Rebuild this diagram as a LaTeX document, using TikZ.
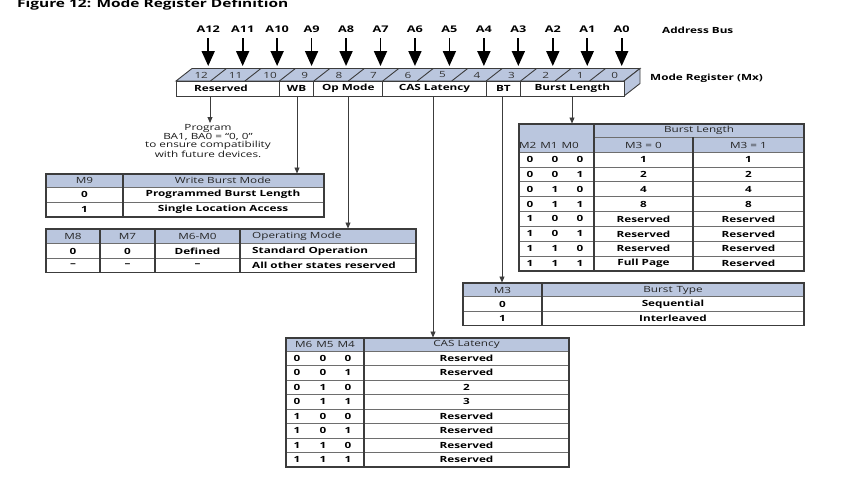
\documentclass[tikz,border=0pt]{standalone}
\usepackage{fontspec}
\setmainfont{Open Sans}[FakeStretch=1.38]
\usetikzlibrary{arrows.meta}
\definecolor{hdr}{RGB}{186,198,222}
\definecolor{ln}{RGB}{60,60,60}
\definecolor{lnl}{RGB}{110,110,110}
\begin{document}
\begin{tikzpicture}[x=1pt,y=-1pt,
  every node/.style={inner sep=0pt, text=black},
  bt/.style={font=\fontsize{8.5}{9}\selectfont\bfseries},
  ab/.style={font=\fontsize{9.2}{10}\selectfont\bfseries},
  hd/.style={font=\fontsize{8.5}{9}\selectfont, text=black!85},
  num/.style={font=\fontsize{8.5}{9}\selectfont, text=black!80},
  bigarr/.style={line width=1.8pt, -{Triangle[width=13pt,length=15pt]}},
  smarr/.style={line width=0.9pt, draw=ln, -{Triangle[width=5pt,length=6pt]}},
  tab/.style={draw=ln, line width=1.2pt},
  grd/.style={draw=lnl, line width=0.7pt},
  regl/.style={draw=ln, line width=0.9pt},
]
\useasboundingbox (0,0) rectangle (865,482);

% title
\node[anchor=base west, font=\fontsize{11.2}{12}\selectfont\bfseries] (title) at (17,7.5) {Figure 12: Mode Register Definition};

% address bus
\foreach \k in {0,...,12}{
  \pgfmathtruncatemacro\bit{12-\k}
  \pgfmathsetmacro\xx{208.2+34.46*\k}
  \node[ab] (a\bit) at (\xx,29.5) {A\bit};
  \coordinate (s\bit) at (\xx,38);
  \coordinate (t\bit) at (\xx,66);
  \draw[bigarr] (s\bit) -- (t\bit);
}
\node[bt, anchor=west] (abus) at (662,30) {Address Bus};

% register
\draw[regl, fill=hdr] (176,81) -- (192,68.5) -- (640,68.5) -- (624,81) -- cycle;
\draw[regl, fill=hdr] (624,81) -- (640,68.5) -- (640,83.5) -- (624,96) -- cycle;
\draw[regl, fill=white] (176,81) rectangle (624,96);
\foreach \j in {1,...,12}{
  \pgfmathsetmacro\xx{176+34.4615*\j}
  \draw[regl] (\xx,81) -- (\xx+16,68.5);
}
\foreach \j in {3,4,6,9,10}{
  \pgfmathsetmacro\xx{176+34.4615*\j}
  \draw[regl] (\xx,81) -- (\xx,96);
}
\foreach \k in {0,...,12}{
  \pgfmathtruncatemacro\bit{12-\k}
  \pgfmathsetmacro\xx{176+34.4615*(\k+0.5)+8}
  \node[num] (b\bit) at (\xx,75) {\bit};
}
\node[bt] (fRes) at (221,88.5) {Reserved};
\node[bt] (fWB) at (296.6,88.5) {WB};
\node[bt] (fOp) at (348.3,88.5) {Op Mode};
\node[bt] (fCAS) at (434.5,88.5) {CAS Latency};
\node[bt] (fBT) at (503.4,88.5) {BT};
\node[bt] (fBL) at (572.3,88.5) {Burst Length};
\node[bt, anchor=west] (mreg) at (650,78) {Mode Register (Mx)};

% connectors
\coordinate (cRes) at (210,96);  \coordinate (eRes) at (210,123);
\coordinate (cWB) at (297,96);   \coordinate (eWB) at (297,173.5);
\coordinate (cOp) at (348,96);   \coordinate (eOp) at (348,228.5);
\coordinate (cCAS) at (433,96);  \coordinate (eCAS) at (433,337.5);
\coordinate (cBT) at (502,96);   \coordinate (eBT) at (502,282.5);
\coordinate (cBL) at (572,96);   \coordinate (eBL) at (572,123.5);
\foreach \n in {Res,WB,Op,CAS,BT,BL}{ \draw[smarr] (c\n) -- (e\n); }

\node[align=center, font=\fontsize{8.5}{8}\selectfont, text=black!90] (prog) at (208,141)
  {Program\\BA1, BA0 = “0, 0”\\to ensure compatibility\\with future devices.};

% Write burst table
\fill[hdr] (46,174) rectangle (324,187);
\draw[grd] (46,187) -- (324,187) (46,202) -- (324,202);
\draw[tab] (123,174) -- (123,217);
\draw[tab] (46,174) rectangle (324,217);
\node[hd] (wbh1) at (84.5,180.5) {M9};
\node[hd] (wbh2) at (223,180.5) {Write Burst Mode};
\node[bt] (wb11) at (84.5,194.5) {0};
\node[bt] (wb12) at (223,194.5) {Programmed Burst Length};
\node[bt] (wb21) at (84.5,209.5) {1};
\node[bt] (wb22) at (223,209.5) {Single Location Access};

% Op mode table
\fill[hdr] (46,229) rectangle (416,243.5);
\draw[grd] (46,243.5) -- (416,243.5) (46,258) -- (416,258);
\draw[tab] (100,229) -- (100,272.5) (155,229) -- (155,272.5) (240,229) -- (240,272.5);
\draw[tab] (46,229) rectangle (416,272.5);
\node[hd] (oph1) at (73,236) {M8};
\node[hd] (oph2) at (127.5,236) {M7};
\node[hd] (oph3) at (197.5,236) {M6-M0};
\node[hd, anchor=west] (oph4) at (252,236) {Operating Mode};
\node[bt] (op11) at (73,251) {0};
\node[bt] (op12) at (127.5,251) {0};
\node[bt] (op13) at (197.5,251) {Defined};
\node[bt, anchor=west] (op14) at (252,251) {Standard Operation};
\node[bt] (op21) at (73,265.5) {–};
\node[bt] (op22) at (127.5,265.5) {–};
\node[bt] (op23) at (197.5,265.5) {–};
\node[bt, anchor=west] (op24) at (252,265.5) {All other states reserved};

% Burst length table
\fill[hdr] (519,124) rectangle (804,152);
\draw[grd] (594,137) -- (804,137);
\foreach \j in {1,...,7}{ \draw[grd] (519,{152+14.875*\j}) -- (804,{152+14.875*\j}); }
\draw[grd] (519,152) -- (804,152);
\draw[tab] (594,124) -- (594,271) (693,137) -- (693,271);
\draw[tab] (519,124) rectangle (804,271);
\node[hd] (blh) at (699,130.5) {Burst Length};
\node[hd] (blm) at (549,145) {M2\hspace{4pt}M1\hspace{4pt}M0};
\node[hd] (bl30) at (643.5,145) {M3 = 0};
\node[hd] (bl31) at (748.5,145) {M3 = 1};
\foreach \a/\b/\c/\d/\e [count=\r from 0] in {0/0/0/1/1,0/0/1/2/2,0/1/0/4/4,0/1/1/8/8,1/0/0/Reserved/Reserved,1/0/1/Reserved/Reserved,1/1/0/Reserved/Reserved,1/1/1/Full Page/Reserved}{
  \pgfmathsetmacro\yy{152+14.875*(\r+0.5)}
  \node[bt] (bl-\r-a) at (530,\yy) {\a};
  \node[bt] (bl-\r-b) at (555,\yy) {\b};
  \node[bt] (bl-\r-c) at (580,\yy) {\c};
  \node[bt] (bl-\r-d) at (643.5,\yy) {\d};
  \node[bt] (bl-\r-e) at (748.5,\yy) {\e};
}

% Burst type table
\fill[hdr] (463,283) rectangle (804,296.5);
\draw[grd] (463,296.5) -- (804,296.5) (463,311) -- (804,311);
\draw[tab] (542,283) -- (542,325.5);
\draw[tab] (463,283) rectangle (804,325.5);
\node[hd] (bth1) at (502.5,290) {M3};
\node[hd] (bth2) at (673,290) {Burst\hspace{4pt}Type};
\node[bt] (bt11) at (502.5,304) {0};
\node[bt] (bt12) at (673,304) {Sequential};
\node[bt] (bt21) at (502.5,318.5) {1};
\node[bt] (bt22) at (673,318.5) {Interleaved};

% CAS latency table
\fill[hdr] (286,338) rectangle (569,351);
\foreach \j in {0,...,7}{ \draw[grd] (286,{351+14.5*\j}) -- (569,{351+14.5*\j}); }
\draw[tab] (364,338) -- (364,467);
\draw[tab] (286,338) rectangle (569,467);
\node[hd] (cash) at (325,344.5) {M6\hspace{4pt}M5\hspace{4pt}M4};
\node[hd] (cash2) at (466.5,344.5) {CAS Latency};
\foreach \a/\b/\c/\d [count=\r from 0] in {0/0/0/Reserved,0/0/1/Reserved,0/1/0/2,0/1/1/3,1/0/0/Reserved,1/0/1/Reserved,1/1/0/Reserved,1/1/1/Reserved}{
  \pgfmathsetmacro\yy{351+14.5*(\r+0.5)}
  \node[bt] (cl-\r-a) at (297,\yy) {\a};
  \node[bt] (cl-\r-b) at (323,\yy) {\b};
  \node[bt] (cl-\r-c) at (348,\yy) {\c};
  \node[bt] (cl-\r-d) at (466.5,\yy) {\d};
}
\end{tikzpicture}
\end{document}
